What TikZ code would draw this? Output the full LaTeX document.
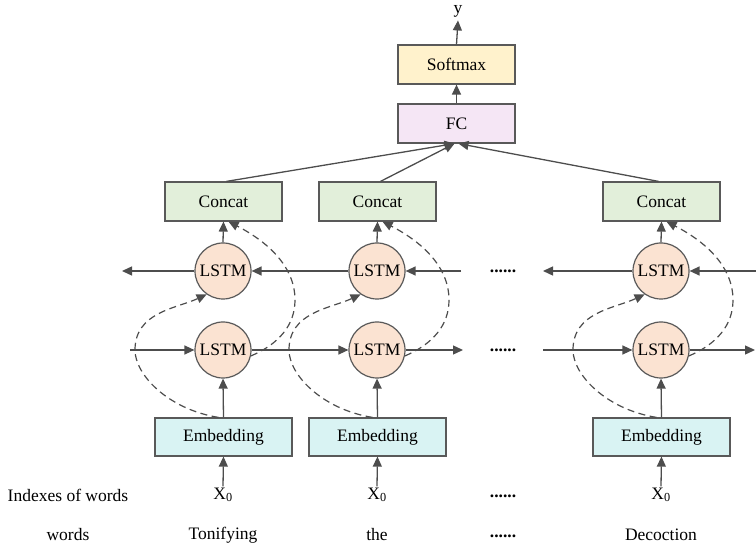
\documentclass[tikz,border=0pt]{standalone}
\usepackage{fontspec}
\setmainfont{Liberation Serif}
\usetikzlibrary{arrows.meta}

\definecolor{linegray}{HTML}{4D4D4D}
\definecolor{boxborder}{HTML}{595959}
\definecolor{softmaxfill}{HTML}{FFF2CC}
\definecolor{fcfill}{HTML}{F5E6F5}
\definecolor{concatfill}{HTML}{E2EFDA}
\definecolor{lstmfill}{HTML}{FBE3D2}
\definecolor{embfill}{HTML}{D9F3F3}

\tikzset{
  every node/.style={font=\fontsize{17.5}{20}\selectfont, text=black},
  layerbox/.style={draw=boxborder, line width=1.2pt, minimum width=117pt, minimum height=39pt, inner sep=0pt},
  embbox/.style={draw=boxborder, line width=1.2pt, fill=embfill, minimum width=137pt, minimum height=38pt, inner sep=0pt},
  lstmcell/.style={circle, draw=boxborder, line width=1.2pt, fill=lstmfill, minimum size=56pt, inner sep=0pt},
  flow/.style={draw=linegray, line width=1.3pt, -{Triangle[length=10pt,width=9pt]}},
  skip/.style={draw=linegray, line width=1.2pt, dash pattern=on 7pt off 4.5pt, -{Triangle[length=10pt,width=9pt]}},
  gap/.style={anchor=base, inner sep=0pt, font=\fontsize{17.5}{20}\bfseries}
}

\begin{document}
\begin{tikzpicture}[x=1pt, y=-1pt]
  \useasboundingbox (0,0) rectangle (756,548);

  % output head
  \node (yout) at (458,11) {y};
  \node[layerbox, fill=softmaxfill] (softmax) at (456.5,64.5) {Softmax};
  \node[layerbox, fill=fcfill] (fc) at (456.5,123.5) {FC};
  \draw[flow] (fc.north) -- (softmax.south);
  \draw[flow] (softmax.north) -- (yout.south);

  % one column per word
  \foreach \n/\x/\w in {1/223/Tonifying, 2/377/the, 3/661/Decoction} {
    \node[layerbox, fill=concatfill] (cat\n) at (\x+0.5,201.5) {Concat};
    \node[lstmcell] (up\n) at (\x,271) {LSTM};
    \node[lstmcell] (lo\n) at (\x,350) {LSTM};
    \node[embbox] (emb\n) at (\x+0.5,437) {Embedding};
    \node (idx\n) at (\x,495) {X\textsubscript{0}};
    \node (word\n) at (\x,535) {\w};
    \draw[flow] ([yshift=-2pt]idx\n.north) -- (emb\n.south);
    \draw[flow] (emb\n.north) -- (lo\n.south);
    \draw[flow] (up\n.north) -- (cat\n.south);
    % embedding skips straight into the backward cell
    \draw[skip] ([xshift=-5pt]emb\n.north)
      .. controls +(-50,-8) and +(0,25) .. ([xshift=-88pt]lo\n.center)
      .. controls +(0,-38) and +(-30,14) .. (up\n.235);
    % forward cell skips straight into the concat layer
    \draw[skip] (lo\n.-12)
      .. controls +(28,-12) and +(0,25) .. ([xshift=72pt]up\n.center |- 0,300)
      .. controls +(0,-36) and +(35,18) .. ([xshift=5pt]cat\n.south);
  }

  \node[gap] (dotsA) at (503,273) {......};
  \node[gap] (dotsB) at (503,352) {......};
  \node[gap] (dotsC) at (503,497) {......};
  \node[gap] (dotsD) at (503,537) {......};

  \node (lblidx) at (68,495) {Indexes of words};
  \node (lblword) at (68,535) {words};

  % free ends of the recurrent chains
  \coordinate (bwIn2) at (461,271);
  \coordinate (bwOut1) at (122,271);
  \coordinate (bwIn3) at (756,271);
  \coordinate (bwOut3) at (543,271);
  \coordinate (fwIn1) at (130,350);
  \coordinate (fwOut2) at (463,350);
  \coordinate (fwIn3) at (543,350);
  \coordinate (fwOut3) at (755,350);

  % backward chain (right to left)
  \draw[flow] (bwIn2) -- (up2.east);
  \draw[flow] (up2.west) -- (up1.east);
  \draw[flow] (up1.west) -- (bwOut1);
  \draw[flow] (bwIn3) -- (up3.east);
  \draw[flow] (up3.west) -- (bwOut3);

  % forward chain (left to right)
  \draw[flow] (fwIn1) -- (lo1.west);
  \draw[flow] (lo1.east) -- (lo2.west);
  \draw[flow] (lo2.east) -- (fwOut2);
  \draw[flow] (fwIn3) -- (lo3.west);
  \draw[flow] (lo3.east) -- (fwOut3);

  % concat outputs into the fully connected layer
  \draw[flow] ([xshift=3pt]cat1.north) -- ([xshift=-2pt]fc.south);
  \draw[flow] ([xshift=3pt]cat2.north) -- ([xshift=-2pt]fc.south);
  \draw[flow] ([xshift=-3pt]cat3.north) -- ([xshift=2pt]fc.south);
\end{tikzpicture}
\end{document}
